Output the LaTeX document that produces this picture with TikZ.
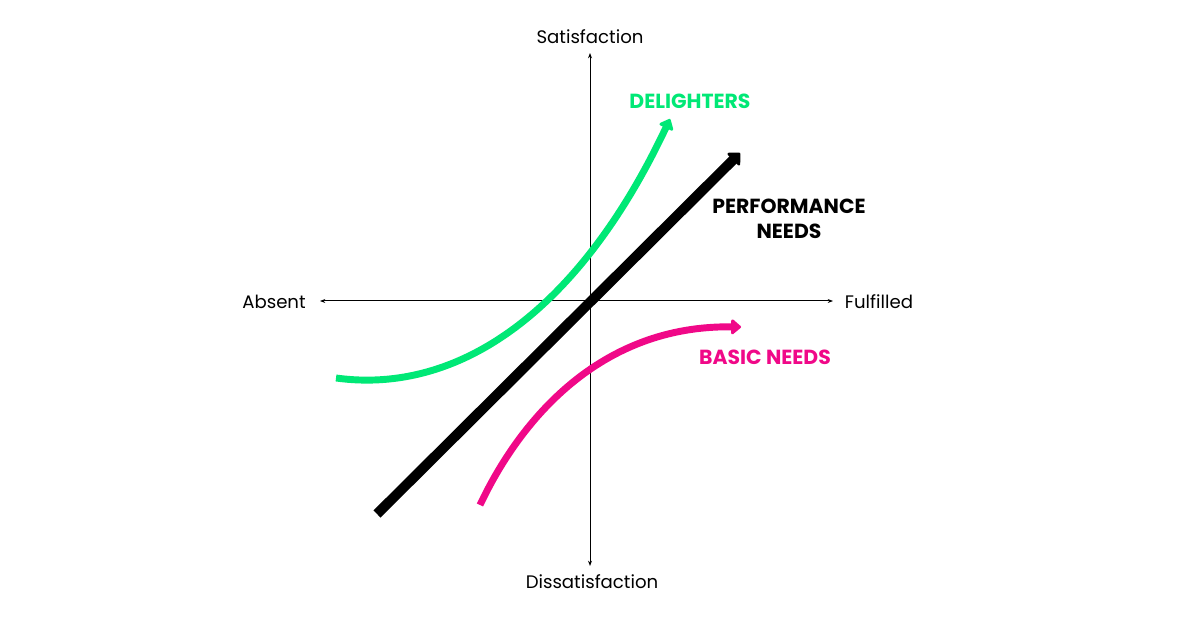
\documentclass[tikz,border=0pt]{standalone}
\usepackage{fontspec}
\setmainfont{Poppins}
\usetikzlibrary{arrows.meta}
\definecolor{dgreen}{RGB}{0,232,118}
\definecolor{bpink}{RGB}{240,8,136}
\tikzset{
  axis/.style={line width=0.75pt, {Stealth[length=4pt,width=3pt]}-{Stealth[length=4pt,width=3pt]}},
  axlabel/.style={font=\fontsize{13.6}{15}\selectfont, inner sep=0pt},
  catlabel/.style={font=\fontsize{15.3}{19}\selectfont\bfseries, inner sep=0pt, align=center},
  thickcurve/.style={line width=5.2pt, -{Triangle[length=8pt,width=13pt,round]}},
  blackline/.style={line width=7.5pt, -{Triangle[length=8pt,width=15pt,round]}}
}
\begin{document}
\begin{tikzpicture}[x=0.75pt,y=-0.75pt]
\useasboundingbox (0,0) rectangle (1200,630);
\fill[white] (0,0) rectangle (1200,630);
% axes
\coordinate (xl) at (320,301);
\coordinate (xr) at (833,301);
\coordinate (yt) at (590,53);
\coordinate (yb) at (590,566);
\draw[axis] (xl) -- (xr);
\draw[axis] (yb) -- (yt);
\node[axlabel] (sat) at (590,37) {Satisfaction};
\node[axlabel] (dis) at (592,582) {Dissatisfaction};
\node[axlabel] (abs) at (274,302) {Absent};
\node[axlabel] (ful) at (879,302) {Fulfilled};
% performance
\coordinate (p0) at (377,514);
\coordinate (p1) at (740,153);
\draw[blackline] (p0) -- (p1);
% delighters
\coordinate (d0) at (336,378);
\coordinate (d1) at (670,119);
\draw[dgreen, thickcurve] (d0) .. controls (460,395) and (580,310) .. (d1);
% basic
\coordinate (b0) at (480,505);
\coordinate (b1) at (741,327);
\draw[bpink, thickcurve] (b0) .. controls (520,420) and (600,325) .. (b1);
% labels
\node[catlabel, text=dgreen] (del) at (690,101) {DELIGHTERS};
\node[catlabel, text=black] (perf) at (789,219) {PERFORMANCE\\NEEDS};
\node[catlabel, text=bpink] (bas) at (765,357) {BASIC NEEDS};
\end{tikzpicture}
\end{document}
